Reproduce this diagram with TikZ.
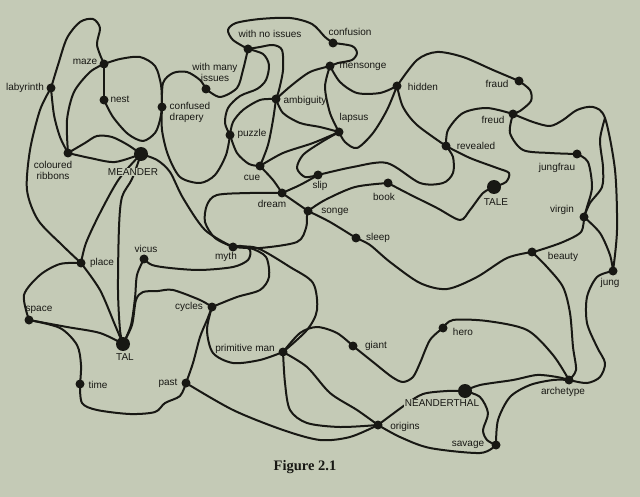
\documentclass[tikz,border=0pt]{standalone}
\usepackage{fontspec}
\setmainfont{Liberation Serif}
\setsansfont{Liberation Sans}
\definecolor{paper}{RGB}{196,202,182}
\definecolor{ink}{RGB}{24,24,20}

\begin{document}
\begin{tikzpicture}[x=1pt, y=-1pt,
  every node/.style={font=\sffamily\fontsize{10}{11}\selectfont, text=ink},
  dot/.style={circle, fill=ink, inner sep=0pt, minimum size=9pt},
  bigdot/.style={circle, fill=ink, inner sep=0pt, minimum size=14pt},
  lbl/.style={inner sep=1pt, align=center},
  wire/.style={draw=ink, line width=2pt, line cap=round, line join=round}]
  \fill[paper] (0,0) rectangle (640,497);
  \useasboundingbox (0,0) rectangle (640,497);

  % word positions
  \coordinate (laby) at (51,88);
  \coordinate (maze) at (104,64);
  \coordinate (nest) at (104,100);
  \coordinate (drapery) at (162,107);
  \coordinate (manyiss) at (206,89);
  \coordinate (noiss) at (248,49);
  \coordinate (confusion) at (333,43);
  \coordinate (mensonge) at (330,66);
  \coordinate (ambig) at (276,99);
  \coordinate (hidden) at (397,86);
  \coordinate (fraud) at (519,81);
  \coordinate (freud) at (513,114);
  \coordinate (lapsus) at (339,132);
  \coordinate (puzzle) at (230,135);
  \coordinate (revealed) at (446,146);
  \coordinate (ribbons) at (68,153);
  \coordinate (meander) at (141,154);
  \coordinate (cue) at (260,166);
  \coordinate (slip) at (318,175);
  \coordinate (dream) at (282,193);
  \coordinate (songe) at (308,211);
  \coordinate (book) at (388,183);
  \coordinate (tale) at (494,187);
  \coordinate (jungfrau) at (577,154);
  \coordinate (virgin) at (584,217);
  \coordinate (fork) at (605,118);
  \coordinate (sleep) at (356,238);
  \coordinate (myth) at (233,247);
  \coordinate (beauty) at (532,252);
  \coordinate (jung) at (613,271);
  \coordinate (place) at (81,263);
  \coordinate (vicus) at (144,259);
  \coordinate (space) at (29,320);
  \coordinate (tal) at (123,344);
  \coordinate (cycles) at (212,307);
  \coordinate (primman) at (283,352);
  \coordinate (giant) at (353,346);
  \coordinate (hero) at (443,328);
  \coordinate (time) at (80,384);
  \coordinate (past) at (186,383);
  \coordinate (neander) at (465,391);
  \coordinate (archetype) at (569,380);
  \coordinate (origins) at (378,425);
  \coordinate (savage) at (496,445);

  % the threads
  \draw[wire] plot[smooth] coordinates {(laby) (58,65) (67,38) (80,22) (93,19) (100,28) (97,45) (maze)};
  \draw[wire] plot[smooth] coordinates {(maze) (120,59) (140,57) (155,66) (161,85) (drapery)};
  \draw[wire] (maze) -- (nest);
  \draw[wire] plot[smooth] coordinates {(nest) (113,117) (128,134) (143,141) (155,133) (160,120) (drapery)};
  \draw[wire] plot[smooth] coordinates {(maze) (90,72) (74,92) (67,120) (ribbons)};
  \draw[wire] plot[smooth] coordinates {(laby) (54,115) (60,137) (ribbons)};
  \draw[wire] plot[smooth] coordinates {(laby) (40,110) (30,150) (27,190) (38,220) (62,245) (place)};
  \draw[wire] plot[smooth] coordinates {(ribbons) (85,143) (97,136) (112,137) (128,145) (meander)};
  \draw[wire] plot[smooth] coordinates {(ribbons) (90,158) (115,162) (meander)};
  \draw[wire] plot[smooth] coordinates {(meander) (119,179) (100,213) (86,243) (place)};
  \draw[wire] plot[smooth] coordinates {(meander) (132,179) (122,197) (119,227) (118,290) (120,330) (tal)};
  \draw[wire] plot[smooth] coordinates {(meander) (157,160) (170,172) (183,198) (205,230) (myth)};
  \draw[wire] plot[smooth] coordinates {(place) (100,290) (115,325) (tal)};
  \draw[wire] plot[smooth] coordinates {(place) (60,264) (40,275) (24,295) (space)};
  \draw[wire] plot[smooth] coordinates {(space) (67,327) (100,333) (tal)};
  \draw[wire] plot[smooth] coordinates {(space) (60,328) (77,345) (81,365) (time)};
  \draw[wire] plot[smooth] coordinates {(time) (82,403) (97,410) (130,414) (155,412) (165,403) (180,396) (past)};
  \draw[wire] plot[smooth] coordinates {(past) (193,363) (200,337) (207,320) (cycles)};
  \draw[wire] plot[smooth] coordinates {(vicus) (137,275) (135,298) (131,325) (tal)};
  \draw[wire] plot[smooth] coordinates {(cycles) (200,300) (173,290) (158,291) (143,292) (136,300) (132,325) (tal)};
  \draw[wire] plot[smooth] coordinates {(vicus) (152,265) (170,268) (200,270) (233,267) (248,260) (250,250) (241,246) (myth)};
  \draw[wire] plot[smooth] coordinates {(cycles) (237,297) (260,290) (269,277) (266,257) (250,248) (myth)};
  \draw[wire] plot[smooth] coordinates {(myth) (257,248) (290,267) (313,283) (317,310) (307,330) (primman)};
  \draw[wire] plot[smooth] coordinates {(cycles) (207,330) (213,353) (233,363) (260,360) (primman)};
  \draw[wire] plot[smooth] coordinates {(dream) (250,193) (217,195) (207,205) (205,222) (215,238) (myth)};
  \draw[wire] plot[smooth] coordinates {(myth) (260,248) (297,242) (306,228) (307,216) (songe)};
  \draw[wire] plot[smooth] coordinates {(cue) (273,180) (dream)};
  \draw[wire] (dream) -- (songe);
  \draw[wire] plot[smooth] coordinates {(songe) (330,222) (sleep)};
  \draw[wire] plot[smooth] coordinates {(sleep) (370,245) (390,262) (420,283) (447,289) (477,277) (507,258) (beauty)};
  \draw[wire] plot[smooth] coordinates {(dream) (300,185) (slip)};
  \draw[wire] plot[smooth] coordinates {(songe) (325,200) (355,187) (book)};
  \draw[wire] plot[smooth] coordinates {(book) (407,193) (437,208) (460,220) (470,210) (483,193) (tale)};
  \draw[wire] plot[smooth] coordinates {(tale) (506,182) (509,173) (497,168) (470,158) (revealed)};
  \draw[wire] plot[smooth] coordinates {(slip) (353,167) (387,163) (420,183) (443,183) (453,173) (453,157) (revealed)};
  \draw[wire] plot[smooth] coordinates {(hidden) (403,107) (417,125) (revealed)};
  \draw[wire] plot[smooth] coordinates {(revealed) (448,130) (463,113) (487,108) (freud)};
  \draw[wire] plot[smooth] coordinates {(hidden) (417,60) (437,52) (463,57) (493,70) (fraud)};
  \draw[wire] plot[smooth] coordinates {(fraud) (530,90) (531,101) (520,111) (freud)};
  \draw[wire] plot[smooth] coordinates {(freud) (510,133) (523,150) (550,153) (jungfrau)};
  \draw[wire] plot[smooth] coordinates {(freud) (533,122) (550,126) (563,120) (577,110) (593,107) (fork) (615,170) (617,230) (jung)};
  \draw[wire] plot[smooth] coordinates {(virgin) (590,203) (602,187) (603,167) (600,140) (fork)};
  \draw[wire] plot[smooth] coordinates {(jungfrau) (588,162) (592,187) (587,207) (virgin)};
  \draw[wire] plot[smooth] coordinates {(virgin) (600,233) (610,255) (jung)};
  \draw[wire] plot[smooth] coordinates {(virgin) (581,232) (563,242) (540,250) (beauty)};
  \draw[wire] plot[smooth] coordinates {(beauty) (547,267) (563,287) (570,313) (573,347) (576,370) (archetype)};
  \draw[wire] plot[smooth] coordinates {(jung) (597,277) (587,297) (587,323) (597,347) (605,363) (600,377) (587,383) (archetype)};
  \draw[wire] plot[smooth] coordinates {(hero) (453,320) (487,321) (527,330) (553,355) (archetype)};
  \draw[wire] plot[smooth] coordinates {(hero) (430,340) (420,363) (413,377) (403,382) (392,377) (373,362) (giant)};
  \draw[wire] plot[smooth] coordinates {(giant) (337,333) (317,327) (300,333) (primman)};
  \draw[wire] plot[smooth] coordinates {(primman) (307,367) (330,393) (357,410) (origins)};
  \draw[wire] plot[smooth] coordinates {(primman) (285,383) (290,410) (307,423) (340,427) (origins)};
  \draw[wire] plot[smooth] coordinates {(past) (233,410) (283,430) (320,440) (350,437) (origins)};
  \draw[wire] plot[smooth] coordinates {(origins) (400,437) (430,448) (480,453) (savage)};
  \draw[wire] plot[smooth] coordinates {(neander) (447,391) (423,394) (405,405) (origins)};
  \draw[wire] plot[smooth] coordinates {(neander) (480,385) (513,380) (537,375) (557,377) (archetype)};
  \draw[wire] plot[smooth] coordinates {(neander) (480,397) (488,413) (483,430) (487,440) (savage)};
  \draw[wire] plot[smooth] coordinates {(savage) (498,420) (510,397) (530,385) (553,380) (archetype)};
  \draw[wire] plot[smooth] coordinates {(drapery) (163,83) (173,73) (187,72) (200,80) (manyiss)};
  \draw[wire] plot[smooth] coordinates {(manyiss) (220,97) (237,88) (243,70) (noiss)};
  \draw[wire] plot[smooth] coordinates {(noiss) (233,40) (228,30) (236,23) (260,19) (290,18) (312,24) (325,37) (confusion)};
  \draw[wire] plot[smooth] coordinates {(confusion) (352,46) (357,53) (352,60) (338,63) (mensonge) (310,72) (292,85) (ambig)};
  \draw[wire] plot[smooth] coordinates {(noiss) (260,47) (273,45) (282,50) (283,70) (279,90) (ambig)};
  \draw[wire] plot[smooth] coordinates {(noiss) (263,54) (269,65) (266,80) (257,89) (240,96) (228,108) (225,123) (puzzle)};
  \draw[wire] plot[smooth] coordinates {(ambig) (260,100) (243,110) (233,122) (puzzle)};
  \draw[wire] plot[smooth] coordinates {(ambig) (273,120) (268,145) (cue)};
  \draw[wire] plot[smooth] coordinates {(ambig) (283,113) (300,123) (320,127) (lapsus)};
  \draw[wire] plot[smooth] coordinates {(mensonge) (325,87) (330,113) (lapsus)};
  \draw[wire] plot[smooth] coordinates {(mensonge) (340,82) (357,93) (380,93) (hidden)};
  \draw[wire] plot[smooth] coordinates {(hidden) (387,110) (373,133) (357,148) (345,142) (lapsus)};
  \draw[wire] plot[smooth] coordinates {(lapsus) (313,143) (283,153) (cue)};
  \draw[wire] plot[smooth] coordinates {(lapsus) (320,143) (303,155) (297,168) (305,177) (slip)};
  \draw[wire] plot[smooth] coordinates {(puzzle) (237,153) (249,164) (cue)};
  \draw[wire] plot[smooth] coordinates {(drapery) (162,130) (168,155) (180,177) (200,183) (215,175) (226,155) (puzzle)};

  % dots
  \foreach \w in {laby,maze,nest,drapery,manyiss,noiss,confusion,mensonge,ambig,hidden,
    fraud,freud,lapsus,puzzle,revealed,ribbons,cue,slip,dream,songe,book,jungfrau,virgin,
    sleep,myth,beauty,jung,place,vicus,space,cycles,primman,giant,hero,time,past,
    archetype,origins,savage}
    \node[dot] (\w-dot) at (\w) {};
  \foreach \w in {meander,tale,tal,neander}
    \node[bigdot] (\w-dot) at (\w) {};

  % words
  \node[lbl] (labyL) at (25,88) {labyrinth};
  \node[lbl] (mazeL) at (85,62) {maze};
  \node[lbl] (nestL) at (120,99) {nest};
  \node[lbl, align=left] (draperyL) at (190,112) {confused\\drapery};
  \node[lbl] (manyissL) at (215,72) {with many\\issues};
  \node[lbl] (noissL) at (270,34) {with no issues};
  \node[lbl] (confusionL) at (350,32) {confusion};
  \node[lbl] (mensongeL) at (363,67) {mensonge};
  \node[lbl] (ambigL) at (305,101) {ambiguity};
  \node[lbl] (hiddenL) at (423,87) {hidden};
  \node[lbl] (fraudL) at (497,84) {fraud};
  \node[lbl] (freudL) at (493,120) {freud};
  \node[lbl] (lapsusL) at (354,118) {lapsus};
  \node[lbl] (revealedL) at (476,146) {revealed};
  \node[lbl] (puzzleL) at (252,134) {puzzle};
  \node[lbl] (ribbonsL) at (53,170) {coloured\\ribbons};
  \node[lbl, fill=paper] (meanderL) at (133,172) {MEANDER};
  \node[lbl] (cueL) at (252,178) {cue};
  \node[lbl] (slipL) at (320,186) {slip};
  \node[lbl] (dreamL) at (272,204) {dream};
  \node[lbl] (songeL) at (335,212) {songe};
  \node[lbl] (bookL) at (384,197) {book};
  \node[lbl] (taleL) at (496,202) {TALE};
  \node[lbl] (jungfrauL) at (557,168) {jungfrau};
  \node[lbl] (virginL) at (562,210) {virgin};
  \node[lbl] (sleepL) at (378,238) {sleep};
  \node[lbl] (mythL) at (226,257) {myth};
  \node[lbl] (beautyL) at (563,257) {beauty};
  \node[lbl] (jungL) at (610,283) {jung};
  \node[lbl] (placeL) at (102,263) {place};
  \node[lbl] (vicusL) at (146,249) {vicus};
  \node[lbl] (spaceL) at (39,310) {space};
  \node[lbl] (talL) at (125,357) {TAL};
  \node[lbl] (cyclesL) at (189,307) {cycles};
  \node[lbl] (primmanL) at (245,349) {primitive man};
  \node[lbl] (giantL) at (376,346) {giant};
  \node[lbl] (heroL) at (463,332) {hero};
  \node[lbl] (timeL) at (98,385) {time};
  \node[lbl] (pastL) at (168,383) {past};
  \node[lbl, fill=paper] (neanderL) at (442,403) {NEANDERTHAL};
  \node[lbl] (archetypeL) at (563,392) {archetype};
  \node[lbl] (originsL) at (405,427) {origins};
  \node[lbl] (savageL) at (468,445) {savage};
  \node[font=\rmfamily\bfseries\fontsize{14.5}{16}\selectfont] (caption) at (305,467) {Figure 2.1};
\end{tikzpicture}
\end{document}
